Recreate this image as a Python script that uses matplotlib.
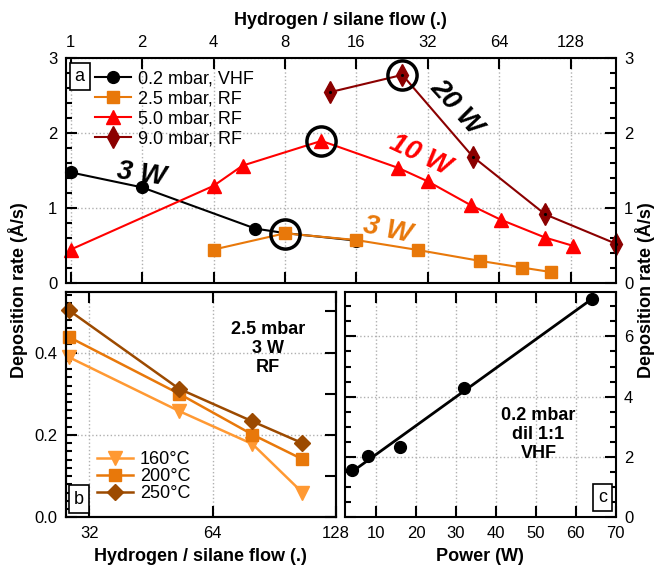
import numpy as np
import matplotlib
matplotlib.use("Agg")
import matplotlib.pyplot as plt
from matplotlib.ticker import MultipleLocator, NullLocator

plt.rcParams["font.family"] = ["Liberation Sans", "DejaVu Sans"]
plt.rcParams["font.size"] = 12
plt.rcParams["axes.linewidth"] = 1.5

# panel a: deposition rate vs hydrogen/silane flow ratio
flow_vhf02 = [1, 2, 6, 8, 16]
rate_vhf02 = [1.48, 1.28, 0.73, 0.67, 0.57]
flow_rf25 = [4, 8, 16, 29, 53, 80, 106]
rate_rf25 = [0.45, 0.667, 0.577, 0.445, 0.30, 0.21, 0.15]
flow_rf50 = [1, 4, 5.3, 11.4, 24, 32, 48.7, 64.8, 100, 131]
rate_rf50 = [0.45, 1.30, 1.57, 1.90, 1.54, 1.36, 1.04, 0.85, 0.61, 0.50]
flow_rf90 = [12.4, 25, 49.5, 100, 198]
rate_rf90 = [2.55, 2.78, 1.69, 0.92, 0.53]
circ_flow = [8, 11.4, 25]
circ_rate = [0.653, 1.90, 2.78]
flow_ticks = [1, 2, 4, 8, 16, 32, 64, 128]

# panel b: 2.5 mbar, 3 W, RF at different temperatures
flow_b = [28.5, 53, 80, 106]
rate_160 = [0.389, 0.258, 0.178, 0.060]
rate_200 = [0.438, 0.300, 0.201, 0.141]
rate_250 = [0.503, 0.312, 0.233, 0.180]

# panel c: 0.2 mbar VHF, rate vs power
power = [4, 8, 16, 32, 64]
rate_power = [1.58, 2.04, 2.32, 4.30, 7.24]

c_orange = "#E8780A"
c_light = "#FF9933"
c_brown = "#9C4A00"
c_red = "#FF0000"
c_dred = "#8B0000"
grid_kw = dict(color="#b0b0b0", linestyle=":", linewidth=1)


def style(ax):
    ax.tick_params(which="both", direction="in", top=True, right=True, width=1.5, pad=6)
    ax.tick_params(which="major", length=8)
    ax.tick_params(which="minor", length=4)


def boxlabel(ax, x, y, s):
    ax.text(x, y, s, transform=ax.transAxes, ha="center", va="center", fontsize=13,
            bbox=dict(boxstyle="square,pad=0.28", fc="white", ec="black", lw=1.2), zorder=10)


fig = plt.figure(figsize=(6.57, 5.67), dpi=100)

# ---- panel a
ax = fig.add_axes([0.1, 0.5003, 0.837, 0.3967])
ax.set_xscale("log", base=2)
ax.plot(flow_vhf02, rate_vhf02, "-o", color="black", lw=1.5, ms=8.5, label="0.2 mbar, VHF", clip_on=False)
ax.plot(flow_rf25, rate_rf25, "-s", color=c_orange, lw=1.5, ms=8, label="2.5 mbar, RF", clip_on=False)
ax.plot(flow_rf50, rate_rf50, "-^", color=c_red, lw=1.5, ms=10, label="5.0 mbar, RF", clip_on=False)
ax.plot(flow_rf90, rate_rf90, "-d", color=c_dred, lw=1.5, ms=11, label="9.0 mbar, RF", clip_on=False)
ax.plot(flow_rf90, rate_rf90, ".", color="black", ms=2.5, clip_on=False)
ax.plot(circ_flow, circ_rate, "o", mfc="none", mec="black", mew=2.5, ms=21, zorder=5)
ax.set_xlim(0.953, 198)
ax.set_ylim(0, 3)
ax.set_xticks(flow_ticks)
ax.set_xticklabels([str(t) for t in flow_ticks])
ax.xaxis.set_minor_locator(NullLocator())
ax.yaxis.set_major_locator(MultipleLocator(1))
ax.yaxis.set_minor_locator(MultipleLocator(0.2))
style(ax)
ax.tick_params(labeltop=True, labelbottom=False, labelright=True)
ax.grid(True, which="major", **grid_kw)
ax.legend(loc="upper left", bbox_to_anchor=(0.053, 0.948), frameon=False, fontsize=13,
          handlelength=2, handletextpad=0.4, labelspacing=0.17, borderpad=0, borderaxespad=0)
boxlabel(ax, 0.0255, 0.921, "a")
ax.text(1.98, 1.45, "3 W", fontsize=20, fontweight="bold", style="italic", color="black",
        ha="center", va="center", rotation=-8)
ax.text(29.7, 1.71, "10 W", fontsize=20, fontweight="bold", style="italic", color=c_red,
        ha="center", va="center", rotation=-25)
ax.text(42.4, 2.35, "20 W", fontsize=20, fontweight="bold", style="italic", color="black",
        ha="center", va="center", rotation=-48)
ax.text(21.7, 0.71, "3 W", fontsize=20, fontweight="bold", style="italic", color=c_orange,
        ha="center", va="center", rotation=-12)

# ---- panel b
axb = fig.add_axes([0.1, 0.0877, 0.4114, 0.3978])
axb.set_xscale("log", base=2)
axb.plot(flow_b, rate_160, "-v", color=c_light, lw=1.8, ms=10, label="160°C", clip_on=False)
axb.plot(flow_b, rate_200, "-s", color=c_orange, lw=1.8, ms=8, label="200°C", clip_on=False)
axb.plot(flow_b, rate_250, "-D", color=c_brown, lw=1.8, ms=8, label="250°C", clip_on=False)
axb.set_xlim(28, 128)
axb.set_ylim(0, 0.548)
axb.set_xticks([32, 64, 128])
axb.set_xticklabels(["32", "64", "128"])
axb.xaxis.set_minor_locator(NullLocator())
axb.yaxis.set_major_locator(MultipleLocator(0.2))
axb.yaxis.set_minor_locator(MultipleLocator(0.02))
axb.yaxis.set_major_formatter(lambda v, p: f"{v:.1f}")
style(axb)
axb.tick_params(right=False, which="both")
axb.grid(True, which="major", **grid_kw)
axb.legend(loc="lower left", bbox_to_anchor=(0.115, 0.068), frameon=False, fontsize=13,
           handlelength=2, handletextpad=0.4, labelspacing=0.0, borderpad=0, borderaxespad=0)
boxlabel(axb, 0.048, 0.081, "b")
axb.text(0.748, 0.749, "2.5 mbar\n3 W\nRF", transform=axb.transAxes, ha="center", va="center",
         fontsize=13, fontweight="bold", linespacing=1.15)
axb.set_xlabel("Hydrogen / silane flow (.)", fontsize=13, fontweight="bold")
axb.xaxis.set_label_coords(0.5, -0.135)

axb2 = axb.twinx()
axb2.set_ylim(axb.get_ylim())
axb2.yaxis.set_major_locator(MultipleLocator(0.1))
axb2.yaxis.set_minor_locator(NullLocator())
axb2.tick_params(direction="in", length=8, width=1.5, labelright=False, left=False)

# ---- panel c
axc = fig.add_axes([0.5244, 0.0877, 0.4128, 0.3978])
axc.patch.set_alpha(0)
fit = np.polyfit(power, rate_power, 1)
pfit = np.array([power[0], power[-1]])
axc.plot(pfit, np.polyval(fit, pfit), "-", color="black", lw=2)
axc.plot(power, rate_power, "o", color="black", ms=8.5, clip_on=False)
axc.set_xlim(2.1, 70)
axc.set_ylim(0, 7.48)
axc.set_xticks([10, 20, 30, 40, 50, 60, 70])
axc.yaxis.set_major_locator(MultipleLocator(2))
axc.yaxis.set_minor_locator(MultipleLocator(0.5))
style(axc)
axc.tick_params(labelleft=False, labelright=True)
axc.grid(True, which="major", **grid_kw)
boxlabel(axc, 0.952, 0.089, "c")
axc.text(0.715, 0.365, "0.2 mbar\ndil 1:1\nVHF", transform=axc.transAxes, ha="center", va="center",
         fontsize=13, fontweight="bold", linespacing=1.15)
axc.set_xlabel("Power (W)", fontsize=13, fontweight="bold")
axc.xaxis.set_label_coords(0.5, -0.135)

# shared labels
fig.text(0.5186, 0.9564, "Hydrogen / silane flow (.)", ha="center", va="baseline",
         fontsize=13, fontweight="bold")
fig.text(0.028, 0.4885, "Deposition rate (Å/s)", rotation=90, ha="center", va="center",
         fontsize=13, fontweight="bold")
fig.text(0.981, 0.4885, "Deposition rate (Å/s)", rotation=90, ha="center", va="center",
         fontsize=13, fontweight="bold")

fig.savefig("out.png", dpi=100)
